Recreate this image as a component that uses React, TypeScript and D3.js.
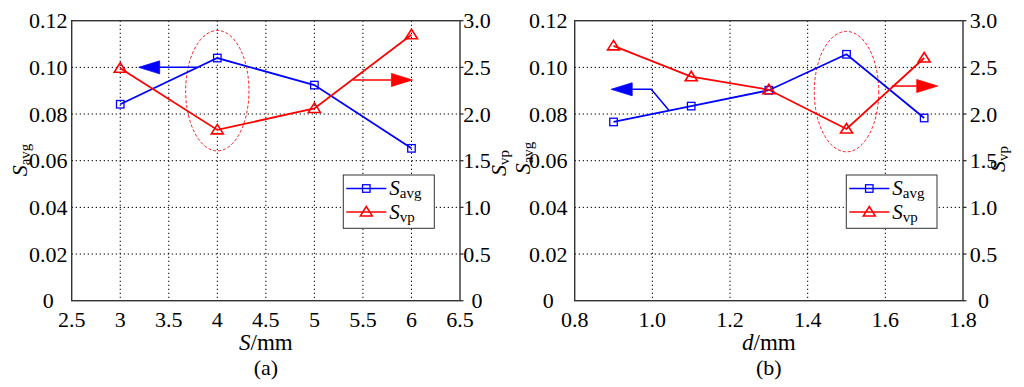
import React from 'react';
import * as d3 from 'd3';

// ---- data (a) ----
const xA = [3, 4, 5, 6];
const savgA = [0.0842, 0.1040, 0.0924, 0.0653];
const svpA = [2.49, 1.83, 2.06, 2.85];
// ---- data (b) ----
const xB = [0.9, 1.1, 1.3, 1.5, 1.7];
const savgB = [0.0766, 0.0834, 0.0902, 0.1056, 0.0783];
const svpB = [2.73, 2.40, 2.26, 1.84, 2.60];

const xTicksA = [2.5, 3, 3.5, 4, 4.5, 5, 5.5, 6, 6.5];
const xTickLabelsA = ['2.5', '3', '3.5', '4', '4.5', '5', '5.5', '6', '6.5'];
const xTicksB = [0.8, 1.0, 1.2, 1.4, 1.6, 1.8];
const xTickLabelsB = ['0.8', '1.0', '1.2', '1.4', '1.6', '1.8'];
const yTicks = [0, 0.02, 0.04, 0.06, 0.08, 0.10, 0.12];
const yTickLabels = ['0', '0.02', '0.04', '0.06', '0.08', '0.10', '0.12'];
const y2Ticks = [0, 0.5, 1.0, 1.5, 2.0, 2.5, 3.0];
const y2TickLabels = ['0', '0.5', '1.0', '1.5', '2.0', '2.5', '3.0'];

// annotation arrows (data coords): [x, y] points, last is tip
const arrowA_left = [[3.79, 0.10], [3.19, 0.10]];
const arrowA_right = [[5.40, 2.365], [6.01, 2.365]];
const arrowB_left = [[1.042, 0.0817], [0.997, 0.0906], [0.894, 0.0906]];
const arrowB_right = [[1.617, 2.30], [1.735, 2.30]];
const ellipseA = { cx: 4, cy: 2.25, rx: 0.326, ry: 0.645 };
const ellipseB = { cx: 1.5, cy: 2.24, rx: 0.083, ry: 0.645 };

const FONT = "'Liberation Serif', 'DejaVu Serif', serif";
const BLUE = '#0000ff';
const RED = '#ff0000';

type PanelProps = {
  left: number; right: number; top: number; bottom: number;
  xDomain: [number, number]; xTicks: number[]; xLabels: string[];
  xs: number[]; savg: number[]; svp: number[];
  xVar: string; caption: string;
  yLabOff: number; y2LabOff: number;
  yTitleX: number; yTitleY: number; y2TitleX: number; y2TitleY: number;
  arrowL: number[][]; arrowR: number[][];
  ell: { cx: number; cy: number; rx: number; ry: number };
  legend: { x: number; y: number; w: number; h: number };
};

function Arrow({ pts, color }: { pts: number[][]; color: string }) {
  const n = pts.length;
  const [tx, ty] = pts[n - 1];
  const [px, py] = pts[n - 2];
  const len = Math.hypot(tx - px, ty - py);
  const ux = (tx - px) / len, uy = (ty - py) / len;
  const hl = 21, hw = 6.5;
  const bx = tx - ux * hl, by = ty - uy * hl;
  const head = `M${tx},${ty}L${bx - uy * hw},${by + ux * hw}L${bx + uy * hw},${by - ux * hw}Z`;
  const line = d3.line()(pts.slice(0, n - 1).concat([[bx, by]]) as [number, number][]) || '';
  return (
    <g>
      <path d={line} fill="none" stroke={color} strokeWidth={1.5} />
      <path d={head} fill={color} stroke={color} strokeWidth={0.8} />
    </g>
  );
}

function Panel(p: PanelProps) {
  const x = d3.scaleLinear().domain(p.xDomain).range([p.left, p.right]);
  const y = d3.scaleLinear().domain([0, 0.12]).range([p.bottom, p.top]);
  const y2 = d3.scaleLinear().domain([0, 3]).range([p.bottom, p.top]);
  const lineA = d3.line<number>().x((_, i) => x(p.xs[i])).y((d) => y(d));
  const lineV = d3.line<number>().x((_, i) => x(p.xs[i])).y((d) => y2(d));
  const sq = 7.5;
  const tri = (cx: number, cy: number) =>
    `M${cx},${cy - 5.5}L${cx + 6},${cy + 4}L${cx - 6},${cy + 4}Z`;
  const lg = p.legend;
  const midX = (p.left + p.right) / 2;
  return (
    <g style={{ fontFamily: FONT }}>
      {/* grid */}
      {p.xTicks.slice(1, -1).map((t) => (
        <line key={'gx' + t} x1={x(t)} x2={x(t)} y1={p.top} y2={p.bottom}
          stroke="#000" strokeWidth={1} strokeDasharray="1.3,2.7" />
      ))}
      {yTicks.slice(1, -1).map((t) => (
        <line key={'gy' + t} x1={p.left} x2={p.right} y1={y(t)} y2={y(t)}
          stroke="#000" strokeWidth={1} strokeDasharray="1.3,2.7" />
      ))}
      {/* tick labels */}
      {p.xTicks.map((t, i) => (
        <text key={'tx' + t} x={x(t)} y={p.bottom + 26} textAnchor="middle" fontSize={22}>
          {p.xLabels[i]}
        </text>
      ))}
      {yTicks.map((t, i) => (
        <text key={'ty' + t} x={p.left - p.yLabOff} y={y(t) + 7.5} textAnchor="middle" fontSize={22}>
          {yTickLabels[i]}
        </text>
      ))}
      {y2Ticks.map((t, i) => (
        <g key={'ty2' + t}>
          <line x1={p.right} x2={p.right + 3.5} y1={y2(t)} y2={y2(t)} stroke="#333" strokeWidth={1.3} />
          <text x={p.right + p.y2LabOff} y={y2(t) + 7.5} textAnchor="middle" fontSize={22}>
            {y2TickLabels[i]}
          </text>
        </g>
      ))}
      {/* box */}
      <rect x={p.left} y={p.top} width={p.right - p.left} height={p.bottom - p.top}
        fill="none" stroke="#333" strokeWidth={1.4} />
      {/* ellipse */}
      <ellipse cx={x(p.ell.cx)} cy={y2(p.ell.cy)}
        rx={x(p.ell.cx + p.ell.rx) - x(p.ell.cx)} ry={y2(0) - y2(p.ell.ry)}
        fill="none" stroke={RED} strokeWidth={0.9} strokeDasharray="3,2" />
      {/* series */}
      <path d={lineA(p.savg) || ''} fill="none" stroke={BLUE} strokeWidth={1.8} />
      <path d={lineV(p.svp) || ''} fill="none" stroke={RED} strokeWidth={1.8} />
      {p.savg.map((v, i) => (
        <rect key={'s' + i} x={x(p.xs[i]) - sq / 2} y={y(v) - sq / 2} width={sq} height={sq}
          fill="none" stroke={BLUE} strokeWidth={1.3} />
      ))}
      {p.svp.map((v, i) => (
        <path key={'t' + i} d={tri(x(p.xs[i]), y2(v))} fill="none" stroke={RED} strokeWidth={1.6} />
      ))}
      {/* arrows */}
      <Arrow pts={p.arrowL.map(([a, b]) => [x(a), y(b)])} color={BLUE} />
      <Arrow pts={p.arrowR.map(([a, b]) => [x(a), y2(b)])} color={RED} />
      {/* legend */}
      <rect x={lg.x} y={lg.y} width={lg.w} height={lg.h} fill="#fff" stroke="#333" strokeWidth={1} />
      <line x1={lg.x + 3} x2={lg.x + 43} y1={lg.y + 13.5} y2={lg.y + 13.5} stroke={BLUE} strokeWidth={1.6} />
      <rect x={lg.x + 23 - sq / 2} y={lg.y + 13.5 - sq / 2} width={sq} height={sq} fill="none" stroke={BLUE} strokeWidth={1.3} />
      <text x={lg.x + 46} y={lg.y + 20} fontSize={21}>
        <tspan fontStyle="italic">S</tspan><tspan fontSize={15} dy={3}>avg</tspan>
      </text>
      <line x1={lg.x + 3} x2={lg.x + 43} y1={lg.y + 37} y2={lg.y + 37} stroke={RED} strokeWidth={1.6} />
      <path d={tri(lg.x + 23, lg.y + 37)} fill="none" stroke={RED} strokeWidth={1.5} />
      <text x={lg.x + 46} y={lg.y + 44} fontSize={21}>
        <tspan fontStyle="italic">S</tspan><tspan fontSize={15} dy={3}>vp</tspan>
      </text>
      {/* axis titles */}
      <text x={midX} y={350} textAnchor="middle" fontSize={23}>
        <tspan fontStyle="italic">{p.xVar}</tspan>/mm
      </text>
      <text x={midX} y={375} textAnchor="middle" fontSize={22}>{p.caption}</text>
      <text transform={`translate(${p.yTitleX},${p.yTitleY}) rotate(-90)`} textAnchor="middle" fontSize={22}>
        <tspan fontStyle="italic">S</tspan><tspan fontSize={15} dy={3}>avg</tspan>
      </text>
      <text transform={`translate(${p.y2TitleX},${p.y2TitleY}) rotate(-90)`} textAnchor="middle" fontSize={22}>
        <tspan fontStyle="italic">S</tspan><tspan fontSize={15} dy={3}>vp</tspan>
      </text>
    </g>
  );
}

export default function App() {
  return (
    <svg width={1024} height={387} style={{ position: 'absolute', left: 0, top: 0, background: '#fff' }}>
      <rect width={1024} height={387} fill="#fff" />
      <Panel left={71.7} right={460} top={20.7} bottom={300.7}
        xDomain={[2.5, 6.5]} xTicks={xTicksA} xLabels={xTickLabelsA}
        xs={xA} savg={savgA} svp={svpA} xVar="S" caption="(a)"
        yLabOff={23.5} y2LabOff={17}
        yTitleX={27} yTitleY={160} y2TitleX={506} y2TitleY={163}
        arrowL={arrowA_left} arrowR={arrowA_right} ell={ellipseA}
        legend={{ x: 343.3, y: 175, w: 91, h: 53.3 }} />
      <Panel left={574.7} right={963} top={20.7} bottom={300.7}
        xDomain={[0.8, 1.8]} xTicks={xTicksB} xLabels={xTickLabelsB}
        xs={xB} savg={savgB} svp={svpB} xVar="d" caption="(b)"
        yLabOff={26.5} y2LabOff={20.5}
        yTitleX={530} yTitleY={158} y2TitleX={1005} y2TitleY={159}
        arrowL={arrowB_left} arrowR={arrowB_right} ell={ellipseB}
        legend={{ x: 846.3, y: 175, w: 90.7, h: 53.3 }} />
    </svg>
  );
}
